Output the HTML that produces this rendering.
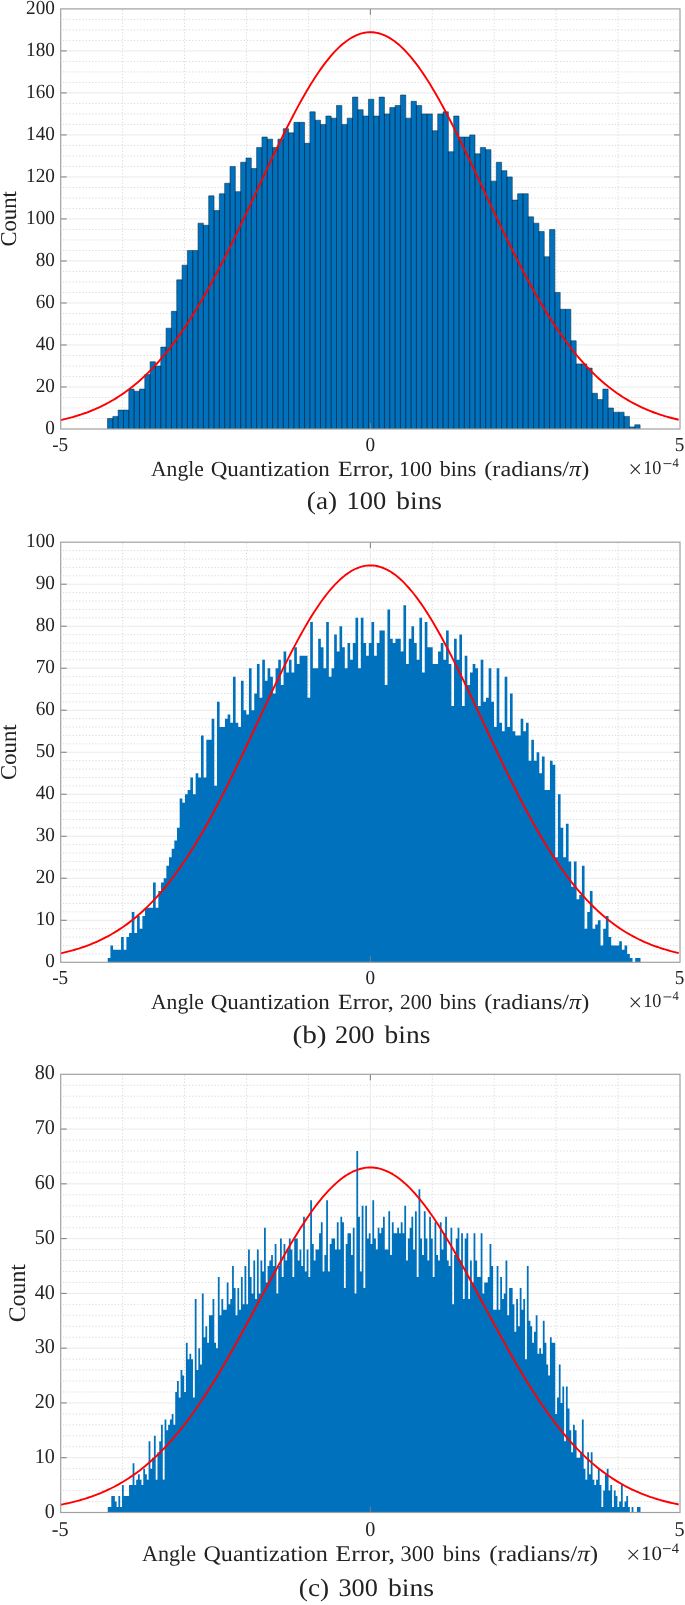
<!DOCTYPE html><html><head><meta charset="utf-8"><style>html,body{margin:0;padding:0;background:#fff;}svg{display:block;will-change:transform;}text{font-family:"Liberation Serif", serif;fill:#232323;text-rendering:geometricPrecision;}</style></head><body>
<svg width="685" height="1605" viewBox="0 0 685 1605">
<rect width="685" height="1605" fill="#fff"/>
<path d="M60.7 418.5H680M60.7 408H680M60.7 397.49H680M60.7 376.49H680M60.7 365.99H680M60.7 355.48H680M60.7 334.48H680M60.7 323.98H680M60.7 313.47H680M60.7 292.47H680M60.7 281.96H680M60.7 271.46H680M60.7 250.46H680M60.7 239.95H680M60.7 229.45H680M60.7 208.45H680M60.7 197.94H680M60.7 187.44H680M60.7 166.44H680M60.7 155.93H680M60.7 145.43H680M60.7 124.43H680M60.7 113.92H680M60.7 103.42H680M60.7 82.42H680M60.7 71.91H680M60.7 61.41H680M60.7 40.41H680M60.7 29.9H680M60.7 19.4H680" stroke="#d9d9d9" stroke-width="1" stroke-dasharray="1.2 2.028" stroke-dashoffset="0.93" fill="none"/>
<path d="M122.63 8.9V429M184.56 8.9V429M246.49 8.9V429M308.42 8.9V429M432.28 8.9V429M494.21 8.9V429M556.14 8.9V429M618.07 8.9V429" stroke="#d9d9d9" stroke-width="1" stroke-dasharray="1.2 2" stroke-dashoffset="2.2" fill="none"/>
<path d="M60.7 386.99H680M60.7 344.98H680M60.7 302.97H680M60.7 260.96H680M60.7 218.95H680M60.7 176.94H680M60.7 134.93H680M60.7 92.92H680M60.7 50.91H680M370.35 8.9V429" stroke="#eaeaea" stroke-width="1" fill="none"/>
<path d="M107.5 429V418.5H112.83V416.4H118.15V410.1H123.48V410.1H128.8V389.09H134.13V391.19H139.46V389.09H144.78V374.39H150.11V361.78H155.43V365.99H160.76V347.08H166.09V328.18H171.41V311.37H176.74V279.86H182.06V265.16H187.39V250.46H192.72V250.46H198.04V223.15H203.37V225.25H208.69V195.84H214.02V210.55H219.35V193.74H224.67V183.24H230V166.44H235.32V191.64H240.65V162.24H245.98V158.04H251.3V168.54H256.63V147.53H261.95V137.03H267.28V139.13H272.61V147.53H277.93V139.13H283.26V128.63H288.58V132.83H293.91V122.33H299.24V122.33H304.56V143.33H309.89V111.82H315.21V120.23H320.54V124.43H325.87V116.03H331.19V118.13H336.52V105.52H341.84V124.43H347.17V118.13H352.5V97.12H357.82V109.72H363.15V116.03H368.47V99.22H373.8V116.03H379.13V97.12H384.45V113.92H389.78V107.62H395.1V105.52H400.43V95.02H405.76V118.13H411.08V101.32H416.41V105.52H421.73V113.92H427.06V113.92H432.39V130.73H437.71V113.92H443.04V111.82H448.36V151.73H453.69V116.03H459.02V137.03H464.34V137.03H469.67V134.93H474.99V153.83H480.32V147.53H485.65V149.63H490.97V181.14H496.3V162.24H501.62V170.64H506.95V176.94H512.28V200.05H517.6V193.74H522.93V193.74H528.25V216.85H533.58V223.15H538.91V231.55H544.23V256.76H549.56V229.45H554.88V292.47H560.21V309.27H565.54V309.27H570.86V340.78H576.19V363.88H581.51V363.88H586.84V368.09H592.17V393.29H597.49V399.59H602.82V389.09H608.14V408H613.47V412.2H618.8V412.2H624.12V416.4H629.45V426.9H634.77V424.8H640.1V429Z" fill="#0072BD"/>
<path d="M107.5 429V418.5H112.83V429M112.83 429V416.4H118.15V429M118.15 429V410.1H123.48V429M123.48 429V410.1H128.8V429M128.8 429V389.09H134.13V429M134.13 429V391.19H139.46V429M139.46 429V389.09H144.78V429M144.78 429V374.39H150.11V429M150.11 429V361.78H155.43V429M155.43 429V365.99H160.76V429M160.76 429V347.08H166.09V429M166.09 429V328.18H171.41V429M171.41 429V311.37H176.74V429M176.74 429V279.86H182.06V429M182.06 429V265.16H187.39V429M187.39 429V250.46H192.72V429M192.72 429V250.46H198.04V429M198.04 429V223.15H203.37V429M203.37 429V225.25H208.69V429M208.69 429V195.84H214.02V429M214.02 429V210.55H219.35V429M219.35 429V193.74H224.67V429M224.67 429V183.24H230V429M230 429V166.44H235.32V429M235.32 429V191.64H240.65V429M240.65 429V162.24H245.98V429M245.98 429V158.04H251.3V429M251.3 429V168.54H256.63V429M256.63 429V147.53H261.95V429M261.95 429V137.03H267.28V429M267.28 429V139.13H272.61V429M272.61 429V147.53H277.93V429M277.93 429V139.13H283.26V429M283.26 429V128.63H288.58V429M288.58 429V132.83H293.91V429M293.91 429V122.33H299.24V429M299.24 429V122.33H304.56V429M304.56 429V143.33H309.89V429M309.89 429V111.82H315.21V429M315.21 429V120.23H320.54V429M320.54 429V124.43H325.87V429M325.87 429V116.03H331.19V429M331.19 429V118.13H336.52V429M336.52 429V105.52H341.84V429M341.84 429V124.43H347.17V429M347.17 429V118.13H352.5V429M352.5 429V97.12H357.82V429M357.82 429V109.72H363.15V429M363.15 429V116.03H368.47V429M368.47 429V99.22H373.8V429M373.8 429V116.03H379.13V429M379.13 429V97.12H384.45V429M384.45 429V113.92H389.78V429M389.78 429V107.62H395.1V429M395.1 429V105.52H400.43V429M400.43 429V95.02H405.76V429M405.76 429V118.13H411.08V429M411.08 429V101.32H416.41V429M416.41 429V105.52H421.73V429M421.73 429V113.92H427.06V429M427.06 429V113.92H432.39V429M432.39 429V130.73H437.71V429M437.71 429V113.92H443.04V429M443.04 429V111.82H448.36V429M448.36 429V151.73H453.69V429M453.69 429V116.03H459.02V429M459.02 429V137.03H464.34V429M464.34 429V137.03H469.67V429M469.67 429V134.93H474.99V429M474.99 429V153.83H480.32V429M480.32 429V147.53H485.65V429M485.65 429V149.63H490.97V429M490.97 429V181.14H496.3V429M496.3 429V162.24H501.62V429M501.62 429V170.64H506.95V429M506.95 429V176.94H512.28V429M512.28 429V200.05H517.6V429M517.6 429V193.74H522.93V429M522.93 429V193.74H528.25V429M528.25 429V216.85H533.58V429M533.58 429V223.15H538.91V429M538.91 429V231.55H544.23V429M544.23 429V256.76H549.56V429M549.56 429V229.45H554.88V429M554.88 429V292.47H560.21V429M560.21 429V309.27H565.54V429M565.54 429V309.27H570.86V429M570.86 429V340.78H576.19V429M576.19 429V363.88H581.51V429M581.51 429V363.88H586.84V429M586.84 429V368.09H592.17V429M592.17 429V393.29H597.49V429M597.49 429V399.59H602.82V429M602.82 429V389.09H608.14V429M608.14 429V408H613.47V429M613.47 429V412.2H618.8V429M618.8 429V412.2H624.12V429M624.12 429V416.4H629.45V429M629.45 429V426.9H634.77V429M634.77 429V424.8H640.1V429" fill="none" stroke="#0a2d4a" stroke-width="0.55"/>
<polyline points="60.7,420.05 62.7,419.6 64.7,419.13 66.7,418.65 68.7,418.14 70.7,417.61 72.7,417.06 74.7,416.49 76.7,415.89 78.7,415.27 80.7,414.62 82.7,413.95 84.7,413.25 86.7,412.53 88.7,411.77 90.7,410.99 92.7,410.18 94.7,409.34 96.7,408.47 98.7,407.56 100.7,406.62 102.7,405.65 104.7,404.65 106.7,403.6 108.7,402.53 110.7,401.41 112.7,400.26 114.7,399.07 116.7,397.84 118.7,396.57 120.7,395.26 122.7,393.91 124.7,392.51 126.7,391.07 128.7,389.59 130.7,388.06 132.7,386.48 134.7,384.86 136.7,383.19 138.7,381.48 140.7,379.71 142.7,377.9 144.7,376.03 146.7,374.11 148.7,372.15 150.7,370.13 152.7,368.06 154.7,365.93 156.7,363.75 158.7,361.52 160.7,359.24 162.7,356.9 164.7,354.5 166.7,352.05 168.7,349.54 170.7,346.98 172.7,344.36 174.7,341.69 176.7,338.96 178.7,336.17 180.7,333.33 182.7,330.44 184.7,327.48 186.7,324.47 188.7,321.41 190.7,318.29 192.7,315.12 194.7,311.89 196.7,308.61 198.7,305.28 200.7,301.89 202.7,298.46 204.7,294.97 206.7,291.43 208.7,287.85 210.7,284.22 212.7,280.54 214.7,276.81 216.7,273.04 218.7,269.23 220.7,265.38 222.7,261.49 224.7,257.56 226.7,253.59 228.7,249.59 230.7,245.55 232.7,241.48 234.7,237.38 236.7,233.26 238.7,229.11 240.7,224.93 242.7,220.74 244.7,216.52 246.7,212.29 248.7,208.05 250.7,203.79 252.7,199.52 254.7,195.25 256.7,190.97 258.7,186.69 260.7,182.41 262.7,178.14 264.7,173.87 266.7,169.61 268.7,165.36 270.7,161.13 272.7,156.92 274.7,152.73 276.7,148.56 278.7,144.42 280.7,140.31 282.7,136.23 284.7,132.19 286.7,128.18 288.7,124.23 290.7,120.31 292.7,116.45 294.7,112.63 296.7,108.87 298.7,105.17 300.7,101.53 302.7,97.95 304.7,94.44 306.7,91 308.7,87.64 310.7,84.34 312.7,81.13 314.7,78 316.7,74.95 318.7,71.99 320.7,69.11 322.7,66.33 324.7,63.64 326.7,61.05 328.7,58.56 330.7,56.17 332.7,53.88 334.7,51.69 336.7,49.62 338.7,47.65 340.7,45.8 342.7,44.05 344.7,42.42 346.7,40.91 348.7,39.52 350.7,38.24 352.7,37.08 354.7,36.05 356.7,35.13 358.7,34.34 360.7,33.67 362.7,33.13 364.7,32.71 366.7,32.41 368.7,32.24 370.7,32.2 372.7,32.28 374.7,32.49 376.7,32.82 378.7,33.28 380.7,33.86 382.7,34.56 384.7,35.39 386.7,36.34 388.7,37.42 390.7,38.61 392.7,39.92 394.7,41.35 396.7,42.9 398.7,44.56 400.7,46.34 402.7,48.23 404.7,50.23 406.7,52.34 408.7,54.55 410.7,56.87 412.7,59.3 414.7,61.82 416.7,64.44 418.7,67.16 420.7,69.96 422.7,72.87 424.7,75.85 426.7,78.93 428.7,82.09 430.7,85.32 432.7,88.64 434.7,92.03 436.7,95.49 438.7,99.02 440.7,102.62 442.7,106.28 444.7,109.99 446.7,113.77 448.7,117.6 450.7,121.48 452.7,125.41 454.7,129.38 456.7,133.4 458.7,137.45 460.7,141.54 462.7,145.66 464.7,149.81 466.7,153.98 468.7,158.18 470.7,162.4 472.7,166.64 474.7,170.89 476.7,175.15 478.7,179.42 480.7,183.7 482.7,187.97 484.7,192.25 486.7,196.53 488.7,200.8 490.7,205.07 492.7,209.32 494.7,213.56 496.7,217.79 498.7,222 500.7,226.19 502.7,230.36 504.7,234.5 506.7,238.62 508.7,242.7 510.7,246.76 512.7,250.79 514.7,254.78 516.7,258.74 518.7,262.66 520.7,266.54 522.7,270.38 524.7,274.18 526.7,277.93 528.7,281.65 530.7,285.31 532.7,288.93 534.7,292.5 536.7,296.02 538.7,299.49 540.7,302.91 542.7,306.28 544.7,309.6 546.7,312.87 548.7,316.08 550.7,319.23 552.7,322.33 554.7,325.38 556.7,328.37 558.7,331.31 560.7,334.19 562.7,337.02 564.7,339.79 566.7,342.5 568.7,345.16 570.7,347.76 572.7,350.3 574.7,352.79 576.7,355.23 578.7,357.6 580.7,359.93 582.7,362.2 584.7,364.41 586.7,366.58 588.7,368.68 590.7,370.74 592.7,372.74 594.7,374.69 596.7,376.6 598.7,378.45 600.7,380.25 602.7,382 604.7,383.7 606.7,385.35 608.7,386.96 610.7,388.52 612.7,390.04 614.7,391.51 616.7,392.93 618.7,394.32 620.7,395.66 622.7,396.96 624.7,398.21 626.7,399.43 628.7,400.61 630.7,401.75 632.7,402.85 634.7,403.92 636.7,404.95 638.7,405.95 640.7,406.91 642.7,407.84 644.7,408.73 646.7,409.59 648.7,410.43 650.7,411.23 652.7,412 654.7,412.75 656.7,413.46 658.7,414.15 660.7,414.82 662.7,415.46 664.7,416.07 666.7,416.66 668.7,417.23 670.7,417.77 672.7,418.29 674.7,418.79 676.7,419.28 678.7,419.74" fill="none" stroke="#ff0000" stroke-width="1.9" stroke-linejoin="round"/>
<path d="M60.7 386.99h6M680 386.99h-6M60.7 344.98h6M680 344.98h-6M60.7 302.97h6M680 302.97h-6M60.7 260.96h6M680 260.96h-6M60.7 218.95h6M680 218.95h-6M60.7 176.94h6M680 176.94h-6M60.7 134.93h6M680 134.93h-6M60.7 92.92h6M680 92.92h-6M60.7 50.91h6M680 50.91h-6M370.35 429v-6M370.35 8.9v6" stroke="#7d7d7d" stroke-width="1" fill="none"/>
<rect x="60.7" y="8.9" width="619.3" height="420.1" fill="none" stroke="#a0a0a0" stroke-width="1.2"/>
<text transform="translate(45.3 433.6) scale(0.96 1)" font-size="20">0</text>
<text transform="translate(35.7 391.59) scale(0.96 1)" font-size="20">20</text>
<text transform="translate(35.7 349.58) scale(0.96 1)" font-size="20">40</text>
<text transform="translate(35.7 307.57) scale(0.96 1)" font-size="20">60</text>
<text transform="translate(35.7 265.56) scale(0.96 1)" font-size="20">80</text>
<text transform="translate(26.1 223.55) scale(0.96 1)" font-size="20">100</text>
<text transform="translate(26.1 181.54) scale(0.96 1)" font-size="20">120</text>
<text transform="translate(26.1 139.53) scale(0.96 1)" font-size="20">140</text>
<text transform="translate(26.1 97.52) scale(0.96 1)" font-size="20">160</text>
<text transform="translate(26.1 55.51) scale(0.96 1)" font-size="20">180</text>
<text transform="translate(26.1 13.5) scale(0.96 1)" font-size="20">200</text>
<text transform="translate(52.2 450.75) scale(0.96 1)" font-size="20">-5</text>
<text transform="translate(365.45 450.75) scale(0.96 1)" font-size="20">0</text>
<text transform="translate(674.7 450.75) scale(0.96 1)" font-size="20">5</text>
<text transform="translate(16.45 246.61) rotate(-90)" font-size="22.7">Count</text>
<text transform="translate(151 475.6)" font-size="21.6">Angle</text>
<text transform="translate(210.68 475.6) scale(1.0668 1)" font-size="21.6">Quantization</text>
<text transform="translate(337.92 475.6) scale(1.1173 1)" font-size="21.6">Error,</text>
<text transform="translate(398.98 475.6) scale(1.0187 1)" font-size="21.6">100</text>
<text transform="translate(439.7 475.6) scale(1.0152 1)" font-size="21.6">bins</text>
<text transform="translate(484.24 475.6) scale(1.1234 1)" font-size="21.6">(radians/<tspan font-style="italic">π</tspan>)</text>
<path d="M630.7 464.4L639.9 473.8M630.7 473.8L639.9 464.4" stroke="#232323" stroke-width="1.05" fill="none"/>
<text transform="translate(643.28 474) scale(0.9328 1)" font-size="19.5">10</text>
<path d="M663.5 463.6H671.4" stroke="#232323" stroke-width="0.9" fill="none"/>
<text transform="translate(672.5 467) scale(0.9757 1)" font-size="12.9">4</text>
<text transform="translate(306.85 509.4) scale(1.0768 1)" font-size="25.3">(a)</text>
<text transform="translate(346.53 509.4) scale(1.0460 1)" font-size="25.3">100</text>
<text transform="translate(396.3 509.4) scale(1.0840 1)" font-size="25.3">bins</text>
<path d="M60.7 953.9H680M60.7 945.5H680M60.7 937.09H680M60.7 928.69H680M60.7 911.89H680M60.7 903.49H680M60.7 895.08H680M60.7 886.68H680M60.7 869.88H680M60.7 861.48H680M60.7 853.07H680M60.7 844.67H680M60.7 827.87H680M60.7 819.47H680M60.7 811.06H680M60.7 802.66H680M60.7 785.86H680M60.7 777.46H680M60.7 769.05H680M60.7 760.65H680M60.7 743.85H680M60.7 735.45H680M60.7 727.04H680M60.7 718.64H680M60.7 701.84H680M60.7 693.44H680M60.7 685.03H680M60.7 676.63H680M60.7 659.83H680M60.7 651.43H680M60.7 643.02H680M60.7 634.62H680M60.7 617.82H680M60.7 609.42H680M60.7 601.01H680M60.7 592.61H680M60.7 575.81H680M60.7 567.41H680M60.7 559H680M60.7 550.6H680" stroke="#d9d9d9" stroke-width="1" stroke-dasharray="1.2 2.028" stroke-dashoffset="0.93" fill="none"/>
<path d="M122.63 542.2V962.3M184.56 542.2V962.3M246.49 542.2V962.3M308.42 542.2V962.3M432.28 542.2V962.3M494.21 542.2V962.3M556.14 542.2V962.3M618.07 542.2V962.3" stroke="#d9d9d9" stroke-width="1" stroke-dasharray="1.2 2" stroke-dashoffset="2.2" fill="none"/>
<path d="M60.7 920.29H680M60.7 878.28H680M60.7 836.27H680M60.7 794.26H680M60.7 752.25H680M60.7 710.24H680M60.7 668.23H680M60.7 626.22H680M60.7 584.21H680M370.35 542.2V962.3" stroke="#eaeaea" stroke-width="1" fill="none"/>
<path d="M107.75 962.3V958.1H110.41V945.5H113.08V949.7H115.74V949.7H118.4V949.7H121.07V937.09H123.73V949.7H126.4V937.09H129.06V932.89H131.72V911.89H134.39V932.89H137.05V916.09H139.72V928.69H142.38V916.09H145.04V907.69H147.71V907.69H150.37V907.69H153.03V882.48H155.7V907.69H158.36V890.88H161.02V882.48H163.69V878.28H166.35V865.68H169.02V857.27H171.68V848.87H174.34V840.47H177.01V827.87H179.67V798.46H182.33V802.66H185V794.26H187.66V790.06H190.33V777.46H192.99V794.26H195.65V773.25H198.32V777.46H200.98V735.45H203.64V777.46H206.31V739.65H208.97V739.65H211.64V718.64H214.3V785.86H216.96V701.84H219.63V727.04H222.29V727.04H224.95V718.64H227.62V714.44H230.28V722.84H232.95V676.63H235.61V722.84H238.27V727.04H240.94V680.83H243.6V710.24H246.26V714.44H248.93V668.23H251.59V710.24H254.26V693.44H256.92V664.03H259.58V697.64H262.25V659.83H264.91V680.83H267.57V668.23H270.24V676.63H272.9V693.44H275.57V668.23H278.23V659.83H280.89V685.03H283.56V651.43H286.22V672.43H288.88V659.83H291.55V672.43H294.21V647.23H296.88V664.03H299.54V655.63H302.2V655.63H304.87V655.63H307.53V697.64H310.19V622.02H312.86V668.23H315.52V668.23H318.19V638.82H320.85V647.23H323.51V668.23H326.18V622.02H328.84V676.63H331.5V668.23H334.17V634.62H336.83V651.43H339.5V626.22H342.16V647.23H344.82V668.23H347.49V643.02H350.15V659.83H352.81V643.02H355.48V617.82H358.14V668.23H360.81V617.82H363.47V643.02H366.13V655.63H368.8V643.02H371.46V622.02H374.12V655.63H376.79V643.02H379.45V630.42H382.12V630.42H384.78V685.03H387.44V609.42H390.11V638.82H392.77V643.02H395.44V638.82H398.1V638.82H400.76V651.43H403.43V605.22H406.09V664.03H408.75V638.82H411.42V626.22H414.08V643.02H416.74V659.83H419.41V617.82H422.07V672.43H424.74V622.02H427.4V647.23H430.06V647.23H432.73V664.03H435.39V664.03H438.05V651.43H440.72V643.02H443.38V659.83H446.05V630.42H448.71V664.03H451.37V706.04H454.04V638.82H456.7V659.83H459.36V634.62H462.03V706.04H464.69V655.63H467.36V685.03H470.02V672.43H472.68V664.03H475.35V668.23H478.01V706.04H480.67V659.83H483.34V701.84H486V697.64H488.67V668.23H491.33V701.84H493.99V727.04H496.66V668.23H499.32V722.84H501.98V731.25H504.65V676.63H507.31V727.04H509.98V693.44H512.64V731.25H515.3V735.45H517.97V735.45H520.63V718.64H523.29V731.25H525.96V722.84H528.62V760.65H531.29V739.65H533.95V760.65H536.61V752.25H539.28V773.25H541.94V756.45H544.61V790.06H547.27V790.06H549.93V760.65H552.6V764.85H555.26V857.27H557.92V794.26H560.59V827.87H563.25V857.27H565.92V823.67H568.58V861.48H571.24V886.68H573.91V861.48H576.57V899.28H579.23V895.08H581.9V865.68H584.56V928.69H587.23V911.89H589.89V890.88H592.55V928.69H595.22V924.49H597.88V920.29H600.54V945.5H603.21V928.69H605.87V916.09H608.53V937.09H611.2V945.5H613.86V945.5H616.53V945.5H619.19V941.29H621.85V949.7H624.52V945.5H627.18V953.9H629.85V958.1H632.51V962.3H635.17V958.1H637.84V958.1H640.5V962.3Z" fill="#0072BD"/>
<polyline points="60.7,953.35 62.7,952.9 64.7,952.43 66.7,951.94 68.7,951.44 70.7,950.91 72.7,950.36 74.7,949.78 76.7,949.18 78.7,948.56 80.7,947.92 82.7,947.25 84.7,946.55 86.7,945.82 88.7,945.07 90.7,944.29 92.7,943.47 94.7,942.63 96.7,941.76 98.7,940.85 100.7,939.92 102.7,938.95 104.7,937.94 106.7,936.9 108.7,935.82 110.7,934.71 112.7,933.55 114.7,932.36 116.7,931.13 118.7,929.86 120.7,928.55 122.7,927.2 124.7,925.8 126.7,924.36 128.7,922.88 130.7,921.35 132.7,919.77 134.7,918.15 136.7,916.48 138.7,914.76 140.7,913 142.7,911.18 144.7,909.32 146.7,907.4 148.7,905.43 150.7,903.41 152.7,901.34 154.7,899.21 156.7,897.04 158.7,894.8 160.7,892.52 162.7,890.18 164.7,887.78 166.7,885.33 168.7,882.82 170.7,880.26 172.7,877.64 174.7,874.97 176.7,872.23 178.7,869.45 180.7,866.61 182.7,863.71 184.7,860.75 186.7,857.74 188.7,854.68 190.7,851.56 192.7,848.39 194.7,845.16 196.7,841.88 198.7,838.54 200.7,835.16 202.7,831.72 204.7,828.23 206.7,824.7 208.7,821.11 210.7,817.48 212.7,813.8 214.7,810.07 216.7,806.3 218.7,802.49 220.7,798.63 222.7,794.74 224.7,790.81 226.7,786.84 228.7,782.83 230.7,778.8 232.7,774.73 234.7,770.63 236.7,766.5 238.7,762.35 240.7,758.18 242.7,753.98 244.7,749.76 246.7,745.53 248.7,741.28 250.7,737.03 252.7,732.76 254.7,728.48 256.7,724.2 258.7,719.92 260.7,715.64 262.7,711.37 264.7,707.1 266.7,702.84 268.7,698.59 270.7,694.36 272.7,690.14 274.7,685.95 276.7,681.78 278.7,677.64 280.7,673.52 282.7,669.45 284.7,665.4 286.7,661.4 288.7,657.44 290.7,653.52 292.7,649.66 294.7,645.84 296.7,642.08 298.7,638.38 300.7,634.74 302.7,631.16 304.7,627.65 306.7,624.21 308.7,620.84 310.7,617.55 312.7,614.33 314.7,611.2 316.7,608.15 318.7,605.19 320.7,602.31 322.7,599.53 324.7,596.84 326.7,594.25 328.7,591.75 330.7,589.36 332.7,587.07 334.7,584.89 336.7,582.81 338.7,580.84 340.7,578.99 342.7,577.24 344.7,575.62 346.7,574.1 348.7,572.71 350.7,571.43 352.7,570.27 354.7,569.24 356.7,568.32 358.7,567.53 360.7,566.86 362.7,566.32 364.7,565.9 366.7,565.6 368.7,565.43 370.7,565.39 372.7,565.47 374.7,565.68 376.7,566.01 378.7,566.47 380.7,567.05 382.7,567.75 384.7,568.58 386.7,569.53 388.7,570.61 390.7,571.8 392.7,573.11 394.7,574.54 396.7,576.09 398.7,577.76 400.7,579.53 402.7,581.42 404.7,583.42 406.7,585.53 408.7,587.75 410.7,590.07 412.7,592.49 414.7,595.01 416.7,597.64 418.7,600.35 420.7,603.16 422.7,606.07 424.7,609.05 426.7,612.13 428.7,615.29 430.7,618.53 432.7,621.84 434.7,625.23 436.7,628.7 438.7,632.23 440.7,635.83 442.7,639.49 444.7,643.21 446.7,646.98 448.7,650.81 450.7,654.69 452.7,658.62 454.7,662.6 456.7,666.61 458.7,670.67 460.7,674.75 462.7,678.88 464.7,683.03 466.7,687.2 468.7,691.4 470.7,695.62 472.7,699.86 474.7,704.11 476.7,708.38 478.7,712.65 480.7,716.93 482.7,721.21 484.7,725.49 486.7,729.77 488.7,734.04 490.7,738.3 492.7,742.56 494.7,746.8 496.7,751.03 498.7,755.24 500.7,759.43 502.7,763.6 504.7,767.74 506.7,771.86 508.7,775.95 510.7,780.01 512.7,784.04 514.7,788.03 516.7,791.99 518.7,795.91 520.7,799.79 522.7,803.64 524.7,807.44 526.7,811.19 528.7,814.9 530.7,818.57 532.7,822.19 534.7,825.76 536.7,829.28 538.7,832.76 540.7,836.18 542.7,839.55 544.7,842.87 546.7,846.13 548.7,849.34 550.7,852.5 552.7,855.6 554.7,858.65 556.7,861.65 558.7,864.58 560.7,867.46 562.7,870.29 564.7,873.06 566.7,875.77 568.7,878.43 570.7,881.03 572.7,883.58 574.7,886.07 576.7,888.5 578.7,890.88 580.7,893.21 582.7,895.48 584.7,897.7 586.7,899.86 588.7,901.97 590.7,904.02 592.7,906.03 594.7,907.98 596.7,909.88 598.7,911.73 600.7,913.53 602.7,915.28 604.7,916.99 606.7,918.64 608.7,920.25 610.7,921.81 612.7,923.33 614.7,924.8 616.7,926.22 618.7,927.61 620.7,928.95 622.7,930.25 624.7,931.51 626.7,932.72 628.7,933.9 630.7,935.04 632.7,936.15 634.7,937.21 636.7,938.24 638.7,939.24 640.7,940.2 642.7,941.13 644.7,942.02 646.7,942.89 648.7,943.72 650.7,944.52 652.7,945.3 654.7,946.04 656.7,946.76 658.7,947.45 660.7,948.11 662.7,948.75 664.7,949.37 666.7,949.96 668.7,950.52 670.7,951.07 672.7,951.59 674.7,952.09 676.7,952.57 678.7,953.03" fill="none" stroke="#ff0000" stroke-width="1.9" stroke-linejoin="round"/>
<path d="M60.7 920.29h6M680 920.29h-6M60.7 878.28h6M680 878.28h-6M60.7 836.27h6M680 836.27h-6M60.7 794.26h6M680 794.26h-6M60.7 752.25h6M680 752.25h-6M60.7 710.24h6M680 710.24h-6M60.7 668.23h6M680 668.23h-6M60.7 626.22h6M680 626.22h-6M60.7 584.21h6M680 584.21h-6M370.35 962.3v-6M370.35 542.2v6" stroke="#7d7d7d" stroke-width="1" fill="none"/>
<rect x="60.7" y="542.2" width="619.3" height="420.1" fill="none" stroke="#a0a0a0" stroke-width="1.2"/>
<text transform="translate(45.3 966.9) scale(0.96 1)" font-size="20">0</text>
<text transform="translate(35.7 924.89) scale(0.96 1)" font-size="20">10</text>
<text transform="translate(35.7 882.88) scale(0.96 1)" font-size="20">20</text>
<text transform="translate(35.7 840.87) scale(0.96 1)" font-size="20">30</text>
<text transform="translate(35.7 798.86) scale(0.96 1)" font-size="20">40</text>
<text transform="translate(35.7 756.85) scale(0.96 1)" font-size="20">50</text>
<text transform="translate(35.7 714.84) scale(0.96 1)" font-size="20">60</text>
<text transform="translate(35.7 672.83) scale(0.96 1)" font-size="20">70</text>
<text transform="translate(35.7 630.82) scale(0.96 1)" font-size="20">80</text>
<text transform="translate(35.7 588.81) scale(0.96 1)" font-size="20">90</text>
<text transform="translate(26.1 546.8) scale(0.96 1)" font-size="20">100</text>
<text transform="translate(52.2 984.05) scale(0.96 1)" font-size="20">-5</text>
<text transform="translate(365.45 984.05) scale(0.96 1)" font-size="20">0</text>
<text transform="translate(674.7 984.05) scale(0.96 1)" font-size="20">5</text>
<text transform="translate(16.45 779.91) rotate(-90)" font-size="22.7">Count</text>
<text transform="translate(151 1008.9)" font-size="21.6">Angle</text>
<text transform="translate(210.68 1008.9) scale(1.0668 1)" font-size="21.6">Quantization</text>
<text transform="translate(337.92 1008.9) scale(1.1173 1)" font-size="21.6">Error,</text>
<text transform="translate(400.03 1008.9) scale(0.9855 1)" font-size="21.6">200</text>
<text transform="translate(439.7 1008.9) scale(1.0152 1)" font-size="21.6">bins</text>
<text transform="translate(484.24 1008.9) scale(1.1234 1)" font-size="21.6">(radians/<tspan font-style="italic">π</tspan>)</text>
<path d="M630.7 997.7L639.9 1007.1M630.7 1007.1L639.9 997.7" stroke="#232323" stroke-width="1.05" fill="none"/>
<text transform="translate(643.28 1007.3) scale(0.9328 1)" font-size="19.5">10</text>
<path d="M663.5 996.9H671.4" stroke="#232323" stroke-width="0.9" fill="none"/>
<text transform="translate(672.5 1000.3) scale(0.9757 1)" font-size="12.9">4</text>
<text transform="translate(292.38 1043.3) scale(1.1585 1)" font-size="25.3">(b)</text>
<text transform="translate(334.98 1043.3) scale(1.0421 1)" font-size="25.3">200</text>
<text transform="translate(384.6 1043.3) scale(1.0840 1)" font-size="25.3">bins</text>
<path d="M60.7 1501.55H680M60.7 1490.59H680M60.7 1479.63H680M60.7 1468.68H680M60.7 1446.77H680M60.7 1435.82H680M60.7 1424.86H680M60.7 1413.9H680M60.7 1391.99H680M60.7 1381.04H680M60.7 1370.09H680M60.7 1359.13H680M60.7 1337.22H680M60.7 1326.26H680M60.7 1315.31H680M60.7 1304.36H680M60.7 1282.44H680M60.7 1271.49H680M60.7 1260.53H680M60.7 1249.58H680M60.7 1227.67H680M60.7 1216.71H680M60.7 1205.76H680M60.7 1194.8H680M60.7 1172.89H680M60.7 1161.94H680M60.7 1150.98H680M60.7 1140.03H680M60.7 1118.12H680M60.7 1107.16H680M60.7 1096.21H680M60.7 1085.25H680" stroke="#d9d9d9" stroke-width="1" stroke-dasharray="1.2 2.028" stroke-dashoffset="0.93" fill="none"/>
<path d="M122.63 1074.3V1512.5M184.56 1074.3V1512.5M246.49 1074.3V1512.5M308.42 1074.3V1512.5M432.28 1074.3V1512.5M494.21 1074.3V1512.5M556.14 1074.3V1512.5M618.07 1074.3V1512.5" stroke="#d9d9d9" stroke-width="1" stroke-dasharray="1.2 2" stroke-dashoffset="2.2" fill="none"/>
<path d="M60.7 1457.72H680M60.7 1402.95H680M60.7 1348.17H680M60.7 1293.4H680M60.7 1238.62H680M60.7 1183.85H680M60.7 1129.07H680M370.35 1074.3V1512.5" stroke="#eaeaea" stroke-width="1" fill="none"/>
<path d="M107.75 1512.5V1507.02H109.53V1507.02H111.3V1496.07H113.08V1496.07H114.85V1501.55H116.63V1507.02H118.41V1496.07H120.18V1507.02H121.96V1485.11H123.73V1496.07H125.51V1496.07H127.28V1496.07H129.06V1485.11H130.84V1485.11H132.61V1463.2H134.39V1485.11H136.16V1479.63H137.94V1474.16H139.72V1479.63H141.49V1485.11H143.27V1468.68H145.04V1474.16H146.82V1479.63H148.59V1441.29H150.37V1468.68H152.15V1457.72H153.92V1435.82H155.7V1479.63H157.47V1452.25H159.25V1441.29H161.03V1424.86H162.8V1479.63H164.58V1419.38H166.35V1430.34H168.13V1424.86H169.9V1419.38H171.68V1413.9H173.46V1424.86H175.23V1391.99H177.01V1381.04H178.78V1397.47H180.56V1370.09H182.34V1375.56H184.11V1391.99H185.89V1342.7H187.66V1359.13H189.44V1353.65H191.21V1359.13H192.99V1397.47H194.77V1298.88H196.54V1370.09H198.32V1348.17H200.09V1364.61H201.87V1293.4H203.65V1337.22H205.42V1326.26H207.2V1342.7H208.97V1315.31H210.75V1315.31H212.52V1298.88H214.3V1342.7H216.08V1348.17H217.85V1276.97H219.63V1315.31H221.4V1298.88H223.18V1309.83H224.96V1309.83H226.73V1282.44H228.51V1304.36H230.28V1298.88H232.06V1266.01H233.83V1287.92H235.61V1315.31H237.39V1287.92H239.16V1309.83H240.94V1276.97H242.71V1304.36H244.49V1266.01H246.27V1304.36H248.04V1249.58H249.82V1276.97H251.59V1293.4H253.37V1260.53H255.14V1298.88H256.92V1249.58H258.7V1293.4H260.47V1260.53H262.25V1271.49H264.02V1227.67H265.8V1282.44H267.57V1266.01H269.35V1260.53H271.13V1255.06H272.9V1266.01H274.68V1244.1H276.45V1293.4H278.23V1266.01H280.01V1238.62H281.78V1276.97H283.56V1244.1H285.33V1260.53H287.11V1249.58H288.88V1238.62H290.66V1249.58H292.44V1276.97H294.21V1238.62H295.99V1238.62H297.76V1260.53H299.54V1249.58H301.32V1266.01H303.09V1216.71H304.87V1271.49H306.64V1249.58H308.42V1276.97H310.19V1200.28H311.97V1244.1H313.75V1260.53H315.52V1249.58H317.3V1249.58H319.07V1233.15H320.85V1222.19H322.63V1271.49H324.4V1255.06H326.18V1200.28H327.95V1271.49H329.73V1244.1H331.5V1238.62H333.28V1238.62H335.06V1249.58H336.83V1222.19H338.61V1249.58H340.38V1216.71H342.16V1222.19H343.94V1287.92H345.71V1244.1H347.49V1233.15H349.26V1233.15H351.04V1255.06H352.81V1227.67H354.59V1293.4H356.37V1150.98H358.14V1216.71H359.92V1271.49H361.69V1205.76H363.47V1287.92H365.25V1205.76H367.02V1238.62H368.8V1233.15H370.57V1244.1H372.35V1200.28H374.12V1238.62H375.9V1249.58H377.68V1227.67H379.45V1233.15H381.23V1227.67H383V1216.71H384.78V1249.58H386.56V1249.58H388.33V1211.24H390.11V1255.06H391.88V1222.19H393.66V1233.15H395.44V1233.15H397.21V1227.67H398.99V1233.15H400.76V1222.19H402.54V1233.15H404.31V1205.76H406.09V1260.53H407.87V1238.62H409.64V1227.67H411.42V1216.71H413.19V1249.58H414.97V1211.24H416.75V1276.97H418.52V1189.33H420.3V1238.62H422.07V1255.06H423.85V1211.24H425.62V1238.62H427.4V1260.53H429.18V1216.71H430.95V1238.62H432.73V1276.97H434.5V1222.19H436.28V1255.06H438.06V1260.53H439.83V1222.19H441.61V1249.58H443.38V1233.15H445.16V1216.71H446.93V1260.53H448.71V1266.01H450.49V1227.67H452.26V1304.36H454.04V1255.06H455.81V1238.62H457.59V1227.67H459.37V1260.53H461.14V1233.15H462.92V1298.88H464.69V1238.62H466.47V1233.15H468.24V1298.88H470.02V1260.53H471.8V1282.44H473.57V1233.15H475.35V1260.53H477.12V1276.97H478.9V1276.97H480.68V1233.15H482.45V1293.4H484.23V1282.44H486V1282.44H487.78V1276.97H489.55V1244.1H491.33V1266.01H493.11V1309.83H494.88V1309.83H496.66V1266.01H498.43V1309.83H500.21V1276.97H501.99V1298.88H503.76V1293.4H505.54V1260.53H507.31V1315.31H509.09V1287.92H510.86V1287.92H512.64V1304.36H514.42V1331.74H516.19V1298.88H517.97V1326.26H519.74V1287.92H521.52V1309.83H523.3V1298.88H525.07V1359.13H526.85V1266.01H528.62V1320.79H530.4V1326.26H532.17V1342.7H533.95V1331.74H535.73V1315.31H537.5V1353.65H539.28V1348.17H541.05V1353.65H542.83V1320.79H544.61V1342.7H546.38V1364.61H548.16V1375.56H549.93V1337.22H551.71V1342.7H553.48V1342.7H555.26V1413.9H557.04V1397.47H558.81V1364.61H560.59V1402.95H562.36V1386.52H564.14V1441.29H565.91V1386.52H567.69V1408.43H569.47V1430.34H571.24V1452.25H573.02V1424.86H574.79V1430.34H576.57V1457.72H578.35V1457.72H580.12V1452.25H581.9V1419.38H583.67V1468.68H585.45V1479.63H587.23V1452.25H589V1474.16H590.78V1452.25H592.55V1479.63H594.33V1485.11H596.1V1479.63H597.88V1468.68H599.66V1485.11H601.43V1507.02H603.21V1490.59H604.98V1474.16H606.76V1468.68H608.54V1490.59H610.31V1485.11H612.09V1507.02H613.86V1490.59H615.64V1496.07H617.41V1507.02H619.19V1501.55H620.97V1485.11H622.74V1507.02H624.52V1501.55H626.29V1496.07H628.07V1507.02H629.85V1512.5H631.62V1507.02H633.4V1512.5H635.17V1512.5H636.95V1507.02H638.72V1507.02H640.5V1512.5Z" fill="#0072BD"/>
<polyline points="60.7,1504.72 62.7,1504.33 64.7,1503.92 66.7,1503.5 68.7,1503.06 70.7,1502.6 72.7,1502.12 74.7,1501.62 76.7,1501.1 78.7,1500.56 80.7,1500 82.7,1499.41 84.7,1498.81 86.7,1498.18 88.7,1497.52 90.7,1496.84 92.7,1496.14 94.7,1495.4 96.7,1494.65 98.7,1493.86 100.7,1493.04 102.7,1492.2 104.7,1491.32 106.7,1490.42 108.7,1489.48 110.7,1488.51 112.7,1487.51 114.7,1486.48 116.7,1485.41 118.7,1484.3 120.7,1483.16 122.7,1481.99 124.7,1480.77 126.7,1479.52 128.7,1478.23 130.7,1476.9 132.7,1475.53 134.7,1474.12 136.7,1472.67 138.7,1471.18 140.7,1469.64 142.7,1468.07 144.7,1466.44 146.7,1464.78 148.7,1463.07 150.7,1461.31 152.7,1459.51 154.7,1457.66 156.7,1455.77 158.7,1453.83 160.7,1451.84 162.7,1449.81 164.7,1447.72 166.7,1445.59 168.7,1443.41 170.7,1441.19 172.7,1438.91 174.7,1436.59 176.7,1434.21 178.7,1431.79 180.7,1429.32 182.7,1426.8 184.7,1424.23 186.7,1421.62 188.7,1418.95 190.7,1416.24 192.7,1413.48 194.7,1410.68 196.7,1407.82 198.7,1404.93 200.7,1401.98 202.7,1399 204.7,1395.96 206.7,1392.89 208.7,1389.77 210.7,1386.61 212.7,1383.41 214.7,1380.18 216.7,1376.9 218.7,1373.59 220.7,1370.24 222.7,1366.85 224.7,1363.43 226.7,1359.98 228.7,1356.5 230.7,1352.99 232.7,1349.46 234.7,1345.89 236.7,1342.31 238.7,1338.7 240.7,1335.07 242.7,1331.42 244.7,1327.76 246.7,1324.08 248.7,1320.39 250.7,1316.68 252.7,1312.97 254.7,1309.26 256.7,1305.54 258.7,1301.82 260.7,1298.1 262.7,1294.38 264.7,1290.67 266.7,1286.96 268.7,1283.27 270.7,1279.59 272.7,1275.93 274.7,1272.28 276.7,1268.66 278.7,1265.06 280.7,1261.49 282.7,1257.94 284.7,1254.43 286.7,1250.95 288.7,1247.5 290.7,1244.1 292.7,1240.74 294.7,1237.42 296.7,1234.16 298.7,1230.94 300.7,1227.77 302.7,1224.66 304.7,1221.61 306.7,1218.62 308.7,1215.69 310.7,1212.83 312.7,1210.03 314.7,1207.31 316.7,1204.66 318.7,1202.08 320.7,1199.58 322.7,1197.17 324.7,1194.83 326.7,1192.57 328.7,1190.41 330.7,1188.33 332.7,1186.34 334.7,1184.44 336.7,1182.63 338.7,1180.92 340.7,1179.31 342.7,1177.8 344.7,1176.38 346.7,1175.06 348.7,1173.85 350.7,1172.74 352.7,1171.73 354.7,1170.83 356.7,1170.04 358.7,1169.35 360.7,1168.77 362.7,1168.3 364.7,1167.93 366.7,1167.67 368.7,1167.53 370.7,1167.49 372.7,1167.56 374.7,1167.74 376.7,1168.03 378.7,1168.43 380.7,1168.93 382.7,1169.55 384.7,1170.27 386.7,1171.09 388.7,1172.03 390.7,1173.06 392.7,1174.2 394.7,1175.45 396.7,1176.79 398.7,1178.24 400.7,1179.78 402.7,1181.43 404.7,1183.17 406.7,1185 408.7,1186.93 410.7,1188.94 412.7,1191.05 414.7,1193.24 416.7,1195.52 418.7,1197.88 420.7,1200.33 422.7,1202.85 424.7,1205.45 426.7,1208.12 428.7,1210.86 430.7,1213.68 432.7,1216.56 434.7,1219.51 436.7,1222.52 438.7,1225.59 440.7,1228.72 442.7,1231.9 444.7,1235.13 446.7,1238.41 448.7,1241.74 450.7,1245.12 452.7,1248.53 454.7,1251.99 456.7,1255.48 458.7,1259 460.7,1262.55 462.7,1266.14 464.7,1269.75 466.7,1273.38 468.7,1277.03 470.7,1280.7 472.7,1284.38 474.7,1288.07 476.7,1291.78 478.7,1295.49 480.7,1299.21 482.7,1302.93 484.7,1306.65 486.7,1310.37 488.7,1314.09 490.7,1317.8 492.7,1321.49 494.7,1325.18 496.7,1328.86 498.7,1332.52 500.7,1336.16 502.7,1339.78 504.7,1343.38 506.7,1346.96 508.7,1350.52 510.7,1354.05 512.7,1357.55 514.7,1361.02 516.7,1364.46 518.7,1367.87 520.7,1371.24 522.7,1374.58 524.7,1377.89 526.7,1381.15 528.7,1384.38 530.7,1387.57 532.7,1390.71 534.7,1393.82 536.7,1396.88 538.7,1399.9 540.7,1402.87 542.7,1405.8 544.7,1408.68 546.7,1411.52 548.7,1414.31 550.7,1417.06 552.7,1419.76 554.7,1422.41 556.7,1425.01 558.7,1427.56 560.7,1430.07 562.7,1432.52 564.7,1434.93 566.7,1437.29 568.7,1439.6 570.7,1441.86 572.7,1444.07 574.7,1446.24 576.7,1448.35 578.7,1450.42 580.7,1452.44 582.7,1454.42 584.7,1456.34 586.7,1458.22 588.7,1460.06 590.7,1461.84 592.7,1463.59 594.7,1465.28 596.7,1466.94 598.7,1468.54 600.7,1470.11 602.7,1471.63 604.7,1473.11 606.7,1474.55 608.7,1475.95 610.7,1477.3 612.7,1478.62 614.7,1479.9 616.7,1481.14 618.7,1482.34 620.7,1483.51 622.7,1484.64 624.7,1485.73 626.7,1486.79 628.7,1487.82 630.7,1488.81 632.7,1489.77 634.7,1490.69 636.7,1491.59 638.7,1492.46 640.7,1493.29 642.7,1494.1 644.7,1494.88 646.7,1495.63 648.7,1496.35 650.7,1497.05 652.7,1497.72 654.7,1498.37 656.7,1498.99 658.7,1499.59 660.7,1500.17 662.7,1500.72 664.7,1501.26 666.7,1501.77 668.7,1502.26 670.7,1502.74 672.7,1503.19 674.7,1503.63 676.7,1504.04 678.7,1504.45" fill="none" stroke="#ff0000" stroke-width="1.9" stroke-linejoin="round"/>
<path d="M60.7 1457.72h6M680 1457.72h-6M60.7 1402.95h6M680 1402.95h-6M60.7 1348.17h6M680 1348.17h-6M60.7 1293.4h6M680 1293.4h-6M60.7 1238.62h6M680 1238.62h-6M60.7 1183.85h6M680 1183.85h-6M60.7 1129.07h6M680 1129.07h-6M370.35 1512.5v-6M370.35 1074.3v6" stroke="#7d7d7d" stroke-width="1" fill="none"/>
<rect x="60.7" y="1074.3" width="619.3" height="438.2" fill="none" stroke="#a0a0a0" stroke-width="1.2"/>
<text transform="translate(44.85 1517.6) scale(0.96 1)" font-size="21">0</text>
<text transform="translate(34.77 1462.82) scale(0.96 1)" font-size="21">10</text>
<text transform="translate(34.77 1408.05) scale(0.96 1)" font-size="21">20</text>
<text transform="translate(34.77 1353.27) scale(0.96 1)" font-size="21">30</text>
<text transform="translate(34.77 1298.5) scale(0.96 1)" font-size="21">40</text>
<text transform="translate(34.77 1243.72) scale(0.96 1)" font-size="21">50</text>
<text transform="translate(34.77 1188.95) scale(0.96 1)" font-size="21">60</text>
<text transform="translate(34.77 1134.17) scale(0.96 1)" font-size="21">70</text>
<text transform="translate(34.77 1079.4) scale(0.96 1)" font-size="21">80</text>
<text transform="translate(51.8 1535.6) scale(0.96 1)" font-size="21">-5</text>
<text transform="translate(365.21 1535.6) scale(0.96 1)" font-size="21">0</text>
<text transform="translate(674.45 1535.6) scale(0.96 1)" font-size="21">5</text>
<text transform="translate(24.73 1322.35) rotate(-90)" font-size="23.85">Count</text>
<text transform="translate(141.9 1561.2) scale(0.9880 1)" font-size="22.4">Angle</text>
<text transform="translate(203.45 1561.2) scale(1.0757 1)" font-size="22.4">Quantization</text>
<text transform="translate(335.5 1561.2) scale(1.1431 1)" font-size="22.4">Error,</text>
<text transform="translate(400.55 1561.2) scale(0.9984 1)" font-size="22.4">300</text>
<text transform="translate(442.8 1561.2) scale(1.0089 1)" font-size="22.4">bins</text>
<text transform="translate(489.21 1561.2) scale(1.1231 1)" font-size="22.4">(radians/<tspan font-style="italic">π</tspan>)</text>
<path d="M628.5 1549.9L638.1 1559.4M628.5 1559.4L638.1 1549.9" stroke="#232323" stroke-width="1.05" fill="none"/>
<text transform="translate(640.97 1559.6) scale(1.0288 1)" font-size="20.3">10</text>
<path d="M662.9 1548.6H670.8" stroke="#232323" stroke-width="0.9" fill="none"/>
<text transform="translate(671.67 1552.7) scale(1.0074 1)" font-size="14.4">4</text>
<text transform="translate(298.85 1595.9) scale(1.0768 1)" font-size="25.3">(c)</text>
<text transform="translate(338.47 1595.9) scale(1.0369 1)" font-size="25.3">300</text>
<text transform="translate(387.9 1595.9) scale(1.0936 1)" font-size="25.3">bins</text>
</svg></body></html>
